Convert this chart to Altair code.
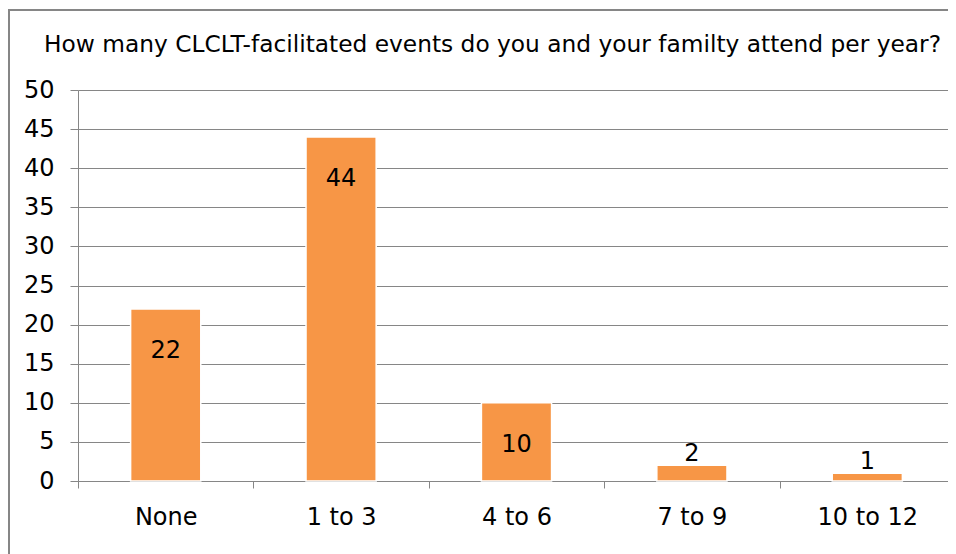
import altair as alt
import pandas as pd

categories = ["None", "1 to 3", "4 to 6", "7 to 9", "10 to 12"]
counts = [22, 44, 10, 2, 1]
title_text = "How many CLCLT-facilitated events do you and your familty attend per year?"
y_ticks = [0, 5, 10, 15, 20, 25, 30, 35, 40, 45, 50]

df = pd.DataFrame({"cat": categories, "n": counts})

FONT = "DejaVu Sans"
FS = 24
W, H = 877, 391
GRID = "#868686"

x_enc = alt.X("cat:N", sort=categories,
              scale=alt.Scale(paddingInner=0, paddingOuter=0),
              axis=alt.Axis(title=None, labelAngle=0, tickBand="extent",
                            tickSize=7, tickColor=GRID, domainColor=GRID,
                            labelFont=FONT, labelFontSize=FS, labelColor="black",
                            labelPadding=17, grid=False))
y_enc = alt.Y("n:Q", scale=alt.Scale(domain=[0, 50], nice=False),
              axis=alt.Axis(title=None, values=y_ticks, tickSize=8,
                            labelOverlap=False,
                            tickColor=GRID, domainColor=GRID, gridColor=GRID,
                            gridWidth=1.2, labelFont=FONT, labelFontSize=FS,
                            labelColor="black", labelPadding=16))

bars = alt.Chart(df).mark_bar(
    width=alt.RelativeBandSize(0.4), color="#F79646",
    stroke="white", strokeWidth=1.5
).encode(x=x_enc, y=y_enc)

big = alt.Chart(df).transform_filter("datum.n >= 5").mark_text(
    font=FONT, fontSize=FS, baseline="middle", dy=42, color="black"
).encode(x=x_enc, y=y_enc, text="n:Q")

small = alt.Chart(df).transform_filter("datum.n < 5").mark_text(
    font=FONT, fontSize=FS, baseline="middle", dy=-11, color="black"
).encode(x=x_enc, y=y_enc, text="n:Q")

border = alt.Chart(df).mark_rect(
    fill="transparent", stroke=GRID, strokeWidth=1.5
).encode(x=alt.value(-69), x2=alt.value(W + 200),
         y=alt.value(-80), y2=alt.value(H + 120))

chart = alt.layer(border, bars, big, small).properties(
    width=W, height=H,
    title=alt.TitleParams(title_text, font=FONT, fontSize=23.3, fontWeight="normal",
                          color="black", anchor="middle", frame="group",
                          dx=-24, offset=-48),
    autosize=alt.AutoSizeParams(type="none"),
    padding={"left": 70, "top": 82, "right": -7, "bottom": 73},
).configure_view(stroke=None)

chart.save("out.html", embed_options={"renderer": "svg", "actions": False})
